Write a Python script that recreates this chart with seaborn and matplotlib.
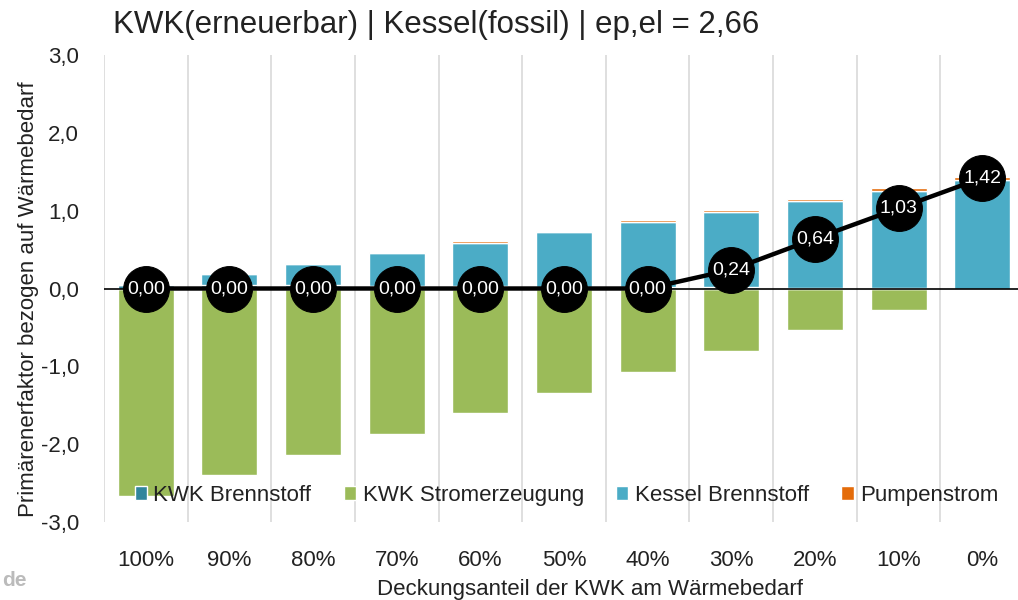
import matplotlib
matplotlib.use("Agg")
import matplotlib.pyplot as plt
import seaborn as sns
import numpy as np
import pandas as pd

categories = ["100%", "90%", "80%", "70%", "60%", "50%", "40%", "30%", "20%", "10%", "0%"]
kwk_brennstoff = [0.05, 0.045, 0.04, 0.035, 0.03, 0.025, 0.02, 0.015, 0.01, 0.005, 0.0]
kwk_strom = [-2.67, -2.40, -2.14, -1.87, -1.60, -1.34, -1.07, -0.80, -0.53, -0.27, 0.0]
kessel = [0.0, 0.14, 0.28, 0.42, 0.56, 0.70, 0.83, 0.97, 1.11, 1.25, 1.39]
pumpen = [0.0, 0.004, 0.008, 0.012, 0.016, 0.02, 0.024, 0.028, 0.032, 0.036, 0.04]
gesamt = [0.0, 0.0, 0.0, 0.0, 0.0, 0.0, 0.0, 0.24, 0.64, 1.03, 1.42]
gesamt_labels = ["0,00"] * 7 + ["0,24", "0,64", "1,03", "1,42"]
yticks = [-3, -2, -1, 0, 1, 2, 3]
ytick_labels = ["-3,0", "-2,0", "-1,0", "0,0", "1,0", "2,0", "3,0"]

sns.set_theme(style="white")
plt.rcParams['font.family'] = ['Liberation Sans', 'DejaVu Sans']

c_kwk = "#31859C"
c_strom = "#9BBB59"
c_kessel = "#4BACC6"
c_pump = "#E46C0A"
tc = "#222222"
fs = 16

fig = plt.figure(figsize=(10.18, 6.0), dpi=100)
ax = fig.add_axes([104/1018, 1 - 522/600, 920/1018, 467/600])

x = np.arange(len(categories))
w = 0.67
df = pd.DataFrame({"cat": categories, "kwk": kwk_brennstoff, "strom": kwk_strom,
                   "kessel": kessel, "pump": pumpen})

b1 = np.zeros(len(x))
ax.bar(x, df["strom"], width=w, color=c_strom, label="KWK Stromerzeugung", zorder=2)
ax.bar(x, df["kwk"], width=w, bottom=b1, color=c_kwk, label="KWK Brennstoff", zorder=2)
b2 = b1 + df["kwk"].values
ax.bar(x, df["kessel"], width=w, bottom=b2, color=c_kessel, label="Kessel Brennstoff", zorder=2)
b3 = b2 + df["kessel"].values
ax.bar(x, df["pump"], width=w, bottom=b3, color=c_pump, label="Pumpenstrom", zorder=2)

ax.axhline(0, color="black", lw=1.2, zorder=3)

line_df = pd.DataFrame({"x": x, "y": gesamt})
sns.lineplot(data=line_df, x="x", y="y", ax=ax, color="black", lw=3.2, marker="o",
             markersize=33, markeredgecolor="black", zorder=5, legend=False)
for xi, yi, lab in zip(x, gesamt, gesamt_labels):
    ax.text(xi, yi, lab, color="white", ha="center", va="center", fontsize=14, zorder=6)

ax.set_xlim(-0.5, len(x) - 0.5)
ax.set_ylim(-3, 3)
ax.set_yticks(yticks)
ax.set_yticklabels(ytick_labels, fontsize=fs, color=tc)
ax.set_xticks(x)
ax.set_xticklabels(categories, fontsize=fs, color=tc)
ax.tick_params(axis="y", length=0, pad=18)
ax.tick_params(axis="x", length=0, pad=20)
for b in np.arange(-0.5, len(x) - 0.4, 1.0):
    ax.axvline(b, color="#d9d9d9", lw=1.2, zorder=0)
for s in ax.spines.values():
    s.set_visible(False)

ax.set_xlabel("Deckungsanteil der KWK am Wärmebedarf", fontsize=fs, color=tc)
ax.xaxis.set_label_coords(0.528, -0.122)
ax.set_ylabel("Primärenerfaktor bezogen auf Wärmebedarf", fontsize=fs, color=tc)
ax.yaxis.set_label_coords(-0.071, 0.477)
fig.text(113/1018, 1 - 25/600, "KWK(erneuerbar) | Kessel(fossil) | ep,el = 2,66",
         fontsize=22.5, color=tc, va="center", ha="left")

handles, labels = ax.get_legend_handles_labels()
order = ["KWK Brennstoff", "KWK Stromerzeugung", "Kessel Brennstoff", "Pumpenstrom"]
hmap = dict(zip(labels, handles))
leg = ax.legend([hmap[o] for o in order], order, loc="lower left",
                bbox_to_anchor=(0.0115, -0.008), ncol=4, frameon=False, fontsize=fs,
                handlelength=0.55, handleheight=0.55, handletextpad=0.3, columnspacing=1.45)
for t in leg.get_texts():
    t.set_color(tc)

fig.text(2/1018, 1 - 580/600, "de", fontsize=15, color="#bbbbbb", fontweight="bold", va="center")

fig.savefig("out.png", dpi=100)
